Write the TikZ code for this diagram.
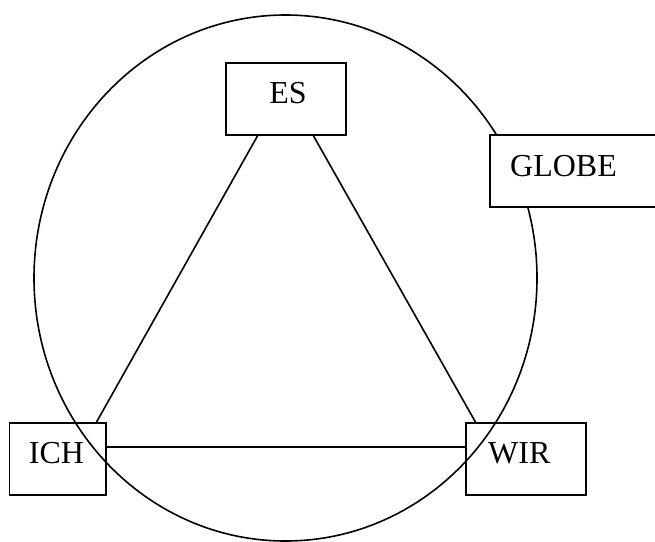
\documentclass[tikz,border=0pt]{standalone}
\usepackage{fontspec}
\setmainfont{Liberation Serif}
\begin{document}
\begin{tikzpicture}[x=1pt,y=-1pt,
  box/.style={draw, line width=1.6pt, inner sep=0pt, outer sep=0pt, minimum height=72pt},
  lab/.style={inner sep=0pt, font=\fontsize{32}{38}\selectfont},
  conn/.style={line width=1.6pt}]
\useasboundingbox (0,0) rectangle (655,541);
% globe
\draw[conn] (285.5,278) ellipse [x radius=251.5pt, y radius=263pt];
% boxes
\node[box, minimum width=120pt, fill=white] (ES) at (286,99) {};
\node[box, minimum width=96.7pt] (ICH) at (57.7,459) {};
\node[box, minimum width=120pt] (WIR) at (526,459) {};
\node[box, minimum width=175pt, anchor=west, fill=white] (GLOBE) at (490,171) {};
% labels
\node[lab, anchor=base] (ESt) at (288,103) {ES};
\node[lab, anchor=base west] (GLOBEt) at (510,176) {GLOBE};
\node[lab, anchor=base] (ICHt) at (56.5,463) {ICH};
\node[lab, anchor=base west] (WIRt) at (488,463) {WIR};
% connectors
\draw[conn] ([xshift=-28pt]ES.south) -- ([xshift=38.3pt]ICH.north);
\draw[conn] ([xshift=27pt]ES.south) -- ([xshift=-50pt]WIR.north);
\draw[conn] ([yshift=12.3pt]ICH.east) -- ([yshift=12.3pt]ICH.east -| WIR.west);
\end{tikzpicture}
\end{document}
